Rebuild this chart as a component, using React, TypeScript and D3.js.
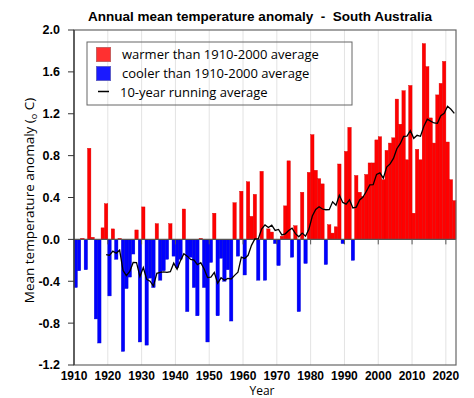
import * as d3 from "d3";

// annual mean temperature anomaly, South Australia (°C vs 1910-2000 average)
const firstYear = 1910;
const anomalies = [
  -0.46, -0.3, 0.01, -0.29, 0.87, 0.02, -0.76, -0.99, 0.11, 0.34, // 1910s
  -0.54, 0.1, -0.19, 0.01, -1.07, -0.47, -0.36, -0.14, 0.09, -0.98, // 1920s
  0.31, -1.01, -0.37, -0.46, 0.15, -0.39, -0.3, -0.19, 0.15, -0.16, // 1930s
  -0.27, -0.19, 0.29, -0.69, -0.17, -0.46, -0.73, 0.01, -0.46, -0.98, // 1940s
  -0.22, 0.25, -0.73, -0.18, -0.4, -0.29, -0.78, 0.35, -0.16, 0.46, // 1950s
  -0.34, 0.55, 0.22, 0.43, -0.39, 0.65, -0.39, 0.1, 0.07, -0.04, // 1960s
  -0.25, 0.03, 0.32, 0.75, -0.17, 0.13, -0.69, 0.45, -0.23, 0.64, // 1970s
  1.0, 0.66, 0.58, 0.53, -0.24, 0.14, 0.06, 0.12, 0.72, -0.04, // 1980s
  0.84, 1.07, -0.2, 0.61, 0.45, 0.41, 0.62, 0.73, 0.73, 0.95, // 1990s
  0.98, 0.57, 0.85, 0.92, 0.97, 1.34, 1.1, 1.42, 0.76, 1.47, // 2000s
  0.25, 0.86, 0.76, 1.87, 1.65, 1.16, 0.92, 1.38, 1.49, 1.7, // 2010s
  0.93, 0.57, 0.37, // 2020s
];
const window10 = 10;

const yTicks = [-1.2, -0.8, -0.4, 0.0, 0.4, 0.8, 1.2, 1.6, 2.0];
const xTicks = [1910, 1920, 1930, 1940, 1950, 1960, 1970, 1980, 1990, 2000, 2010, 2020];
const legendItems = [
  "warmer than 1910-2000 average",
  "cooler than 1910-2000 average",
  "10-year running average",
];

const width = 474;
const height = 398;
const marginTop = 30;
const marginBottom = 33;
const marginLeft = 74;
const marginRight = 18;

const sans = "'Open Sans', 'Noto Sans', sans-serif";
const arial = "'Liberation Sans', Arial, sans-serif";

export default function App() {
  const lastYear = firstYear + anomalies.length; // right edge of last bar
  const x = d3.scaleLinear().domain([firstYear, lastYear]).range([marginLeft, width - marginRight]);
  const y = d3.scaleLinear().domain([-1.2, 2.0]).range([height - marginBottom, marginTop]);
  const y0 = y(0);

  const bars = anomalies.map((v, i) => ({ year: firstYear + i, v }));

  // trailing 10-year mean of the bars, plotted at the centre of the last year
  const running = bars
    .map((d, i) =>
      i < window10 - 1
        ? null
        : { year: d.year, v: d3.mean(anomalies.slice(i - window10 + 1, i + 1)) as number }
    )
    .filter((d): d is { year: number; v: number } => d !== null);

  const line = d3
    .line<{ year: number; v: number }>()
    .x((d) => x(d.year + 0.5))
    .y((d) => y(d.v));

  const [xl, xr] = x.range();
  const [yb, yt] = y.range();

  return (
    <svg
      width={width}
      height={height}
      style={{ position: "absolute", left: 0, top: 0, background: "#fff" }}
    >
      <text
        x={260}
        y={21}
        textAnchor="middle"
        fontFamily={arial}
        fontWeight="bold"
        fontSize={13.5}
      >
        Annual mean temperature anomaly&#160;&#160;-&#160;&#160;South Australia
      </text>

      {/* vertical grid */}
      {xTicks.slice(1).map((t) => (
        <line key={t} x1={x(t)} x2={x(t)} y1={yt} y2={yb} stroke="#e3e3e3" strokeWidth={1} />
      ))}

      {/* bars */}
      {bars.map((d) => (
        <rect
          key={d.year}
          x={x(d.year)}
          width={x(d.year + 1) - x(d.year)}
          y={d.v >= 0 ? y(d.v) : y0}
          height={Math.abs(y(d.v) - y0)}
          fill={d.v >= 0 ? "#ff0000" : "#0000ff"}
          stroke={d.v >= 0 ? "#d80000" : "#0000d0"}
          strokeWidth={0.4}
        />
      ))}

      {/* zero axis with small ticks */}
      <line x1={xl} x2={xr} y1={y0} y2={y0} stroke="#555" strokeWidth={1.2} />
      {xTicks.slice(1).map((t) => (
        <line key={t} x1={x(t)} x2={x(t)} y1={y0} y2={y0 + 5} stroke="#555" strokeWidth={1} />
      ))}

      <path d={line(running) ?? ""} fill="none" stroke="#000" strokeWidth={1.3} />

      {/* frame */}
      <rect x={xl} y={yt} width={xr - xl} height={yb - yt} fill="none" stroke="#666" strokeWidth={1.2} />
      <line x1={xl} x2={xl} y1={yt} y2={yb} stroke="#333" strokeWidth={1.2} />

      {/* y axis */}
      {yTicks.map((t) => (
        <g key={t}>
          <line x1={xl - 6} x2={xl} y1={y(t)} y2={y(t)} stroke="#333" strokeWidth={1} />
          <text
            x={60}
            y={y(t)}
            dy="0.35em"
            textAnchor="end"
            fontFamily={arial}
            fontWeight="bold"
            fontSize={12.5}
          >
            {t.toFixed(1)}
          </text>
        </g>
      ))}

      {/* x axis labels */}
      {xTicks.map((t) => (
        <text
          key={t}
          x={x(t)}
          y={379.5}
          textAnchor="middle"
          fontFamily={arial}
          fontWeight="bold"
          fontSize={12}
        >
          {t}
        </text>
      ))}
      <text x={262} y={394.5} textAnchor="middle" fontFamily={sans} fontSize={12}>
        Year
      </text>

      <text
        transform={`translate(34,${(yt + yb) / 2 + 3}) rotate(-90)`}
        textAnchor="middle"
        fontFamily={sans}
        fontSize={13.5}
      >
        Mean temperature anomaly (
        <tspan fontSize={9} dy={3}>o</tspan>
        <tspan dy={-3}> C)</tspan>
      </text>

      {/* legend */}
      <g fontFamily={sans} fontSize={13}>
        <rect x={87} y={42} width={265} height={63} fill="none" stroke="#666" strokeWidth={1} />
        <rect x={96.5} y={47.5} width={14} height={14} fill="#ff3030" stroke="#c86060" strokeWidth={1} />
        <rect x={96.5} y={66.5} width={14} height={14} fill="#1a1aff" stroke="#6060c8" strokeWidth={1} />
        <line x1={98} x2={109} y1={91.5} y2={91.5} stroke="#000" strokeWidth={1.5} />
        {legendItems.map((s, i) => (
          <text key={s} x={i === 2 ? 120 : 122} y={54.5 + i * 19} dy="0.35em">
            {s}
          </text>
        ))}
      </g>
    </svg>
  );
}
